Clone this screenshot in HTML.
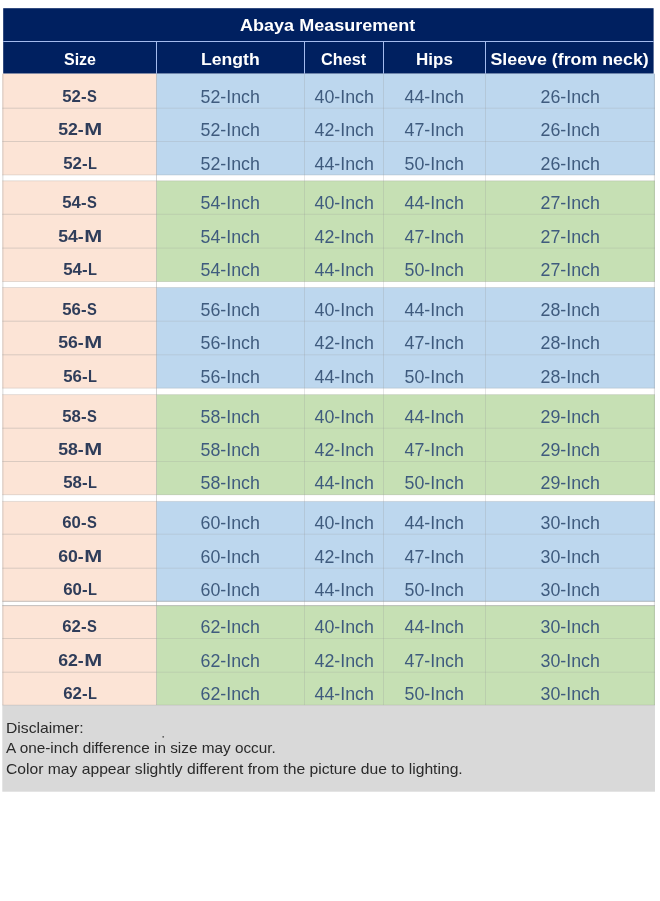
<!DOCTYPE html>
<html lang="en"><head><meta charset="utf-8"><title>Abaya Measurement</title>
<style>
html,body{margin:0;padding:0;background:#fff;}
body{width:660px;height:901px;position:relative;overflow:hidden;font-family:"Liberation Sans",sans-serif;}
svg{position:absolute;left:0;top:0;display:block;}
.tx{position:absolute;left:0;top:0;width:660px;height:901px;will-change:transform;}
.t{position:absolute;text-align:center;white-space:nowrap;line-height:20px;height:20px;}
.t span{display:inline-block;transform-origin:50% 50%;}
.h{color:#fff;font-weight:bold;font-size:17.0px;}
.s{color:#2f3d5a;font-weight:bold;font-size:17.0px;}
.v{color:#3f5b7e;font-size:17.5px;}
.d{position:absolute;left:6px;white-space:nowrap;line-height:20px;height:20px;color:#2a2a2a;font-size:14.5px;}
.d span{display:inline-block;transform-origin:0 50%;}
</style></head><body>
<svg width="660" height="901" viewBox="0 0 660 901">
<rect x="3.2" y="8.2" width="650.4" height="65.5" fill="#002060"/>
<rect x="3.2" y="41" width="650.4" height="1" fill="#a4bbee"/>
<rect x="156" y="41" width="1" height="32.7" fill="#a4bbee"/>
<rect x="304" y="41" width="1" height="32.7" fill="#a4bbee"/>
<rect x="383" y="41" width="1" height="32.7" fill="#a4bbee"/>
<rect x="485" y="41" width="1" height="32.7" fill="#a4bbee"/>
<rect x="2.3" y="73.7" width="154.2" height="101.4" fill="#fce4d6"/>
<rect x="156.5" y="73.7" width="498.5" height="101.4" fill="#bdd7ee"/>
<rect x="2.3" y="107.7" width="154.2" height="1" fill="rgba(150,150,150,0.33)"/>
<rect x="156.5" y="107.7" width="498.5" height="1" fill="rgba(150,150,150,0.22)"/>
<rect x="2.3" y="141.0" width="154.2" height="1" fill="rgba(150,150,150,0.33)"/>
<rect x="156.5" y="141.0" width="498.5" height="1" fill="rgba(150,150,150,0.22)"/>
<rect x="2.3" y="174.4" width="652.7" height="1" fill="rgba(150,150,150,0.25)"/>
<rect x="2.3" y="180.8" width="154.2" height="100.9" fill="#fce4d6"/>
<rect x="156.5" y="180.8" width="498.5" height="100.9" fill="#c6e0b4"/>
<rect x="2.3" y="213.8" width="154.2" height="1" fill="rgba(150,150,150,0.33)"/>
<rect x="156.5" y="213.8" width="498.5" height="1" fill="rgba(150,150,150,0.22)"/>
<rect x="2.3" y="247.6" width="154.2" height="1" fill="rgba(150,150,150,0.33)"/>
<rect x="156.5" y="247.6" width="498.5" height="1" fill="rgba(150,150,150,0.22)"/>
<rect x="2.3" y="281.0" width="652.7" height="1" fill="rgba(150,150,150,0.25)"/>
<rect x="2.3" y="180.3" width="652.7" height="1" fill="rgba(150,150,150,0.25)"/>
<rect x="2.3" y="287.5" width="154.2" height="100.8" fill="#fce4d6"/>
<rect x="156.5" y="287.5" width="498.5" height="100.8" fill="#bdd7ee"/>
<rect x="2.3" y="320.7" width="154.2" height="1" fill="rgba(150,150,150,0.33)"/>
<rect x="156.5" y="320.7" width="498.5" height="1" fill="rgba(150,150,150,0.22)"/>
<rect x="2.3" y="354.3" width="154.2" height="1" fill="rgba(150,150,150,0.33)"/>
<rect x="156.5" y="354.3" width="498.5" height="1" fill="rgba(150,150,150,0.22)"/>
<rect x="2.3" y="387.6" width="652.7" height="1" fill="rgba(150,150,150,0.25)"/>
<rect x="2.3" y="287.0" width="652.7" height="1" fill="rgba(150,150,150,0.25)"/>
<rect x="2.3" y="394.6" width="154.2" height="100.3" fill="#fce4d6"/>
<rect x="156.5" y="394.6" width="498.5" height="100.3" fill="#c6e0b4"/>
<rect x="2.3" y="427.7" width="154.2" height="1" fill="rgba(150,150,150,0.33)"/>
<rect x="156.5" y="427.7" width="498.5" height="1" fill="rgba(150,150,150,0.22)"/>
<rect x="2.3" y="461.0" width="154.2" height="1" fill="rgba(150,150,150,0.33)"/>
<rect x="156.5" y="461.0" width="498.5" height="1" fill="rgba(150,150,150,0.22)"/>
<rect x="2.3" y="494.2" width="652.7" height="1" fill="rgba(150,150,150,0.25)"/>
<rect x="2.3" y="394.1" width="652.7" height="1" fill="rgba(150,150,150,0.25)"/>
<rect x="2.3" y="501.4" width="154.2" height="100.1" fill="#fce4d6"/>
<rect x="156.5" y="501.4" width="498.5" height="100.1" fill="#bdd7ee"/>
<rect x="2.3" y="533.7" width="154.2" height="1" fill="rgba(150,150,150,0.33)"/>
<rect x="156.5" y="533.7" width="498.5" height="1" fill="rgba(150,150,150,0.22)"/>
<rect x="2.3" y="567.7" width="154.2" height="1" fill="rgba(150,150,150,0.33)"/>
<rect x="156.5" y="567.7" width="498.5" height="1" fill="rgba(150,150,150,0.22)"/>
<rect x="2.3" y="600.8" width="652.7" height="1" fill="rgba(150,150,150,0.55)"/>
<rect x="2.3" y="500.9" width="652.7" height="1" fill="rgba(150,150,150,0.25)"/>
<rect x="2.3" y="605.6" width="154.2" height="99.6" fill="#fce4d6"/>
<rect x="156.5" y="605.6" width="498.5" height="99.6" fill="#c6e0b4"/>
<rect x="2.3" y="638.0" width="154.2" height="1" fill="rgba(150,150,150,0.33)"/>
<rect x="156.5" y="638.0" width="498.5" height="1" fill="rgba(150,150,150,0.22)"/>
<rect x="2.3" y="671.7" width="154.2" height="1" fill="rgba(150,150,150,0.33)"/>
<rect x="156.5" y="671.7" width="498.5" height="1" fill="rgba(150,150,150,0.22)"/>
<rect x="2.3" y="605.1" width="652.7" height="1" fill="rgba(150,150,150,0.55)"/>
<rect x="156" y="73.7" width="1" height="631.5" fill="rgba(150,150,150,0.42)"/>
<rect x="304" y="73.7" width="1" height="631.5" fill="rgba(150,150,150,0.25)"/>
<rect x="383" y="73.7" width="1" height="631.5" fill="rgba(150,150,150,0.25)"/>
<rect x="485" y="73.7" width="1" height="631.5" fill="rgba(150,150,150,0.25)"/>
<rect x="2.3" y="73.7" width="1.1" height="631.5" fill="rgba(150,150,150,0.35)"/>
<rect x="653.9" y="73.7" width="1.1" height="631.5" fill="rgba(150,150,150,0.3)"/>
<rect x="2.3" y="705.2" width="652.7" height="86.5" fill="#d9d9d9"/>
<rect x="2.3" y="704.7" width="652.7" height="1" fill="rgba(150,150,150,0.3)"/>
<circle cx="163.2" cy="736.8" r="0.9" fill="#555"/>
</svg>
<div class="tx">
<div class="t h" style="left:2px;width:652px;top:16.41px"><span style="transform:scaleX(1.0600)">Abaya Measurement</span></div>
<div class="t h" style="left:3.5px;width:153px;top:50.01px"><span style="transform:scaleX(0.9400)">Size</span></div>
<div class="t h" style="left:156.5px;width:148px;top:50.01px"><span style="transform:scaleX(1.0360)">Length</span></div>
<div class="t h" style="left:304.5px;width:79px;top:50.01px"><span style="transform:scaleX(0.9570)">Chest</span></div>
<div class="t h" style="left:383.5px;width:102px;top:50.01px"><span style="transform:scaleX(1.0000)">Hips</span></div>
<div class="t h" style="left:484.5px;width:170px;top:50.01px"><span style="transform:scaleX(1.0470)">Sleeve (from neck)</span></div>
<div class="t s" style="left:3px;width:153px;top:86.61px"><span style="transform:scaleX(0.9850)">52-<span style="transform:scaleX(0.88);transform-origin:0 50%;margin-right:-1.36px">S</span></span></div>
<div class="t v" style="left:156.5px;width:148px;top:86.74px"><span style="transform:scaleX(1.0175)">52-Inch</span></div>
<div class="t v" style="left:304.5px;width:79px;top:86.74px"><span style="transform:scaleX(1.0175)">40-Inch</span></div>
<div class="t v" style="left:383.5px;width:102px;top:86.74px"><span style="transform:scaleX(1.0175)">44-Inch</span></div>
<div class="t v" style="left:485.5px;width:170px;top:86.74px"><span style="transform:scaleX(1.0175)">26-Inch</span></div>
<div class="t s" style="left:3.3px;width:153px;top:119.91px"><span style="transform:scaleX(1.0400)">52-<span style="transform:scaleX(1.22);transform-origin:0 50%;margin-right:3.12px">M</span></span></div>
<div class="t v" style="left:156.5px;width:148px;top:120.04px"><span style="transform:scaleX(1.0175)">52-Inch</span></div>
<div class="t v" style="left:304.5px;width:79px;top:120.04px"><span style="transform:scaleX(1.0175)">42-Inch</span></div>
<div class="t v" style="left:383.5px;width:102px;top:120.04px"><span style="transform:scaleX(1.0175)">47-Inch</span></div>
<div class="t v" style="left:485.5px;width:170px;top:120.04px"><span style="transform:scaleX(1.0175)">26-Inch</span></div>
<div class="t s" style="left:3.5px;width:153px;top:153.51px"><span style="transform:scaleX(0.9900)">52-<span style="transform:scaleX(0.87);transform-origin:0 50%;margin-right:-1.35px">L</span></span></div>
<div class="t v" style="left:156.5px;width:148px;top:153.64px"><span style="transform:scaleX(1.0175)">52-Inch</span></div>
<div class="t v" style="left:304.5px;width:79px;top:153.64px"><span style="transform:scaleX(1.0175)">44-Inch</span></div>
<div class="t v" style="left:383.5px;width:102px;top:153.64px"><span style="transform:scaleX(1.0175)">50-Inch</span></div>
<div class="t v" style="left:485.5px;width:170px;top:153.64px"><span style="transform:scaleX(1.0175)">26-Inch</span></div>
<div class="t s" style="left:3px;width:153px;top:192.71px"><span style="transform:scaleX(0.9850)">54-<span style="transform:scaleX(0.88);transform-origin:0 50%;margin-right:-1.36px">S</span></span></div>
<div class="t v" style="left:156.5px;width:148px;top:192.84px"><span style="transform:scaleX(1.0175)">54-Inch</span></div>
<div class="t v" style="left:304.5px;width:79px;top:192.84px"><span style="transform:scaleX(1.0175)">40-Inch</span></div>
<div class="t v" style="left:383.5px;width:102px;top:192.84px"><span style="transform:scaleX(1.0175)">44-Inch</span></div>
<div class="t v" style="left:485.5px;width:170px;top:192.84px"><span style="transform:scaleX(1.0175)">27-Inch</span></div>
<div class="t s" style="left:3.3px;width:153px;top:226.51px"><span style="transform:scaleX(1.0400)">54-<span style="transform:scaleX(1.22);transform-origin:0 50%;margin-right:3.12px">M</span></span></div>
<div class="t v" style="left:156.5px;width:148px;top:226.64px"><span style="transform:scaleX(1.0175)">54-Inch</span></div>
<div class="t v" style="left:304.5px;width:79px;top:226.64px"><span style="transform:scaleX(1.0175)">42-Inch</span></div>
<div class="t v" style="left:383.5px;width:102px;top:226.64px"><span style="transform:scaleX(1.0175)">47-Inch</span></div>
<div class="t v" style="left:485.5px;width:170px;top:226.64px"><span style="transform:scaleX(1.0175)">27-Inch</span></div>
<div class="t s" style="left:3.5px;width:153px;top:260.11px"><span style="transform:scaleX(0.9900)">54-<span style="transform:scaleX(0.87);transform-origin:0 50%;margin-right:-1.35px">L</span></span></div>
<div class="t v" style="left:156.5px;width:148px;top:260.24px"><span style="transform:scaleX(1.0175)">54-Inch</span></div>
<div class="t v" style="left:304.5px;width:79px;top:260.24px"><span style="transform:scaleX(1.0175)">44-Inch</span></div>
<div class="t v" style="left:383.5px;width:102px;top:260.24px"><span style="transform:scaleX(1.0175)">50-Inch</span></div>
<div class="t v" style="left:485.5px;width:170px;top:260.24px"><span style="transform:scaleX(1.0175)">27-Inch</span></div>
<div class="t s" style="left:3px;width:153px;top:299.61px"><span style="transform:scaleX(0.9850)">56-<span style="transform:scaleX(0.88);transform-origin:0 50%;margin-right:-1.36px">S</span></span></div>
<div class="t v" style="left:156.5px;width:148px;top:299.74px"><span style="transform:scaleX(1.0175)">56-Inch</span></div>
<div class="t v" style="left:304.5px;width:79px;top:299.74px"><span style="transform:scaleX(1.0175)">40-Inch</span></div>
<div class="t v" style="left:383.5px;width:102px;top:299.74px"><span style="transform:scaleX(1.0175)">44-Inch</span></div>
<div class="t v" style="left:485.5px;width:170px;top:299.74px"><span style="transform:scaleX(1.0175)">28-Inch</span></div>
<div class="t s" style="left:3.3px;width:153px;top:333.21px"><span style="transform:scaleX(1.0400)">56-<span style="transform:scaleX(1.22);transform-origin:0 50%;margin-right:3.12px">M</span></span></div>
<div class="t v" style="left:156.5px;width:148px;top:333.34px"><span style="transform:scaleX(1.0175)">56-Inch</span></div>
<div class="t v" style="left:304.5px;width:79px;top:333.34px"><span style="transform:scaleX(1.0175)">42-Inch</span></div>
<div class="t v" style="left:383.5px;width:102px;top:333.34px"><span style="transform:scaleX(1.0175)">47-Inch</span></div>
<div class="t v" style="left:485.5px;width:170px;top:333.34px"><span style="transform:scaleX(1.0175)">28-Inch</span></div>
<div class="t s" style="left:3.5px;width:153px;top:366.71px"><span style="transform:scaleX(0.9900)">56-<span style="transform:scaleX(0.87);transform-origin:0 50%;margin-right:-1.35px">L</span></span></div>
<div class="t v" style="left:156.5px;width:148px;top:366.84px"><span style="transform:scaleX(1.0175)">56-Inch</span></div>
<div class="t v" style="left:304.5px;width:79px;top:366.84px"><span style="transform:scaleX(1.0175)">44-Inch</span></div>
<div class="t v" style="left:383.5px;width:102px;top:366.84px"><span style="transform:scaleX(1.0175)">50-Inch</span></div>
<div class="t v" style="left:485.5px;width:170px;top:366.84px"><span style="transform:scaleX(1.0175)">28-Inch</span></div>
<div class="t s" style="left:3px;width:153px;top:406.61px"><span style="transform:scaleX(0.9850)">58-<span style="transform:scaleX(0.88);transform-origin:0 50%;margin-right:-1.36px">S</span></span></div>
<div class="t v" style="left:156.5px;width:148px;top:406.74px"><span style="transform:scaleX(1.0175)">58-Inch</span></div>
<div class="t v" style="left:304.5px;width:79px;top:406.74px"><span style="transform:scaleX(1.0175)">40-Inch</span></div>
<div class="t v" style="left:383.5px;width:102px;top:406.74px"><span style="transform:scaleX(1.0175)">44-Inch</span></div>
<div class="t v" style="left:485.5px;width:170px;top:406.74px"><span style="transform:scaleX(1.0175)">29-Inch</span></div>
<div class="t s" style="left:3.3px;width:153px;top:439.91px"><span style="transform:scaleX(1.0400)">58-<span style="transform:scaleX(1.22);transform-origin:0 50%;margin-right:3.12px">M</span></span></div>
<div class="t v" style="left:156.5px;width:148px;top:440.04px"><span style="transform:scaleX(1.0175)">58-Inch</span></div>
<div class="t v" style="left:304.5px;width:79px;top:440.04px"><span style="transform:scaleX(1.0175)">42-Inch</span></div>
<div class="t v" style="left:383.5px;width:102px;top:440.04px"><span style="transform:scaleX(1.0175)">47-Inch</span></div>
<div class="t v" style="left:485.5px;width:170px;top:440.04px"><span style="transform:scaleX(1.0175)">29-Inch</span></div>
<div class="t s" style="left:3.5px;width:153px;top:473.31px"><span style="transform:scaleX(0.9900)">58-<span style="transform:scaleX(0.87);transform-origin:0 50%;margin-right:-1.35px">L</span></span></div>
<div class="t v" style="left:156.5px;width:148px;top:473.44px"><span style="transform:scaleX(1.0175)">58-Inch</span></div>
<div class="t v" style="left:304.5px;width:79px;top:473.44px"><span style="transform:scaleX(1.0175)">44-Inch</span></div>
<div class="t v" style="left:383.5px;width:102px;top:473.44px"><span style="transform:scaleX(1.0175)">50-Inch</span></div>
<div class="t v" style="left:485.5px;width:170px;top:473.44px"><span style="transform:scaleX(1.0175)">29-Inch</span></div>
<div class="t s" style="left:3px;width:153px;top:512.61px"><span style="transform:scaleX(0.9850)">60-<span style="transform:scaleX(0.88);transform-origin:0 50%;margin-right:-1.36px">S</span></span></div>
<div class="t v" style="left:156.5px;width:148px;top:512.74px"><span style="transform:scaleX(1.0175)">60-Inch</span></div>
<div class="t v" style="left:304.5px;width:79px;top:512.74px"><span style="transform:scaleX(1.0175)">40-Inch</span></div>
<div class="t v" style="left:383.5px;width:102px;top:512.74px"><span style="transform:scaleX(1.0175)">44-Inch</span></div>
<div class="t v" style="left:485.5px;width:170px;top:512.74px"><span style="transform:scaleX(1.0175)">30-Inch</span></div>
<div class="t s" style="left:3.3px;width:153px;top:546.61px"><span style="transform:scaleX(1.0400)">60-<span style="transform:scaleX(1.22);transform-origin:0 50%;margin-right:3.12px">M</span></span></div>
<div class="t v" style="left:156.5px;width:148px;top:546.74px"><span style="transform:scaleX(1.0175)">60-Inch</span></div>
<div class="t v" style="left:304.5px;width:79px;top:546.74px"><span style="transform:scaleX(1.0175)">42-Inch</span></div>
<div class="t v" style="left:383.5px;width:102px;top:546.74px"><span style="transform:scaleX(1.0175)">47-Inch</span></div>
<div class="t v" style="left:485.5px;width:170px;top:546.74px"><span style="transform:scaleX(1.0175)">30-Inch</span></div>
<div class="t s" style="left:3.5px;width:153px;top:579.91px"><span style="transform:scaleX(0.9900)">60-<span style="transform:scaleX(0.87);transform-origin:0 50%;margin-right:-1.35px">L</span></span></div>
<div class="t v" style="left:156.5px;width:148px;top:580.04px"><span style="transform:scaleX(1.0175)">60-Inch</span></div>
<div class="t v" style="left:304.5px;width:79px;top:580.04px"><span style="transform:scaleX(1.0175)">44-Inch</span></div>
<div class="t v" style="left:383.5px;width:102px;top:580.04px"><span style="transform:scaleX(1.0175)">50-Inch</span></div>
<div class="t v" style="left:485.5px;width:170px;top:580.04px"><span style="transform:scaleX(1.0175)">30-Inch</span></div>
<div class="t s" style="left:3px;width:153px;top:616.91px"><span style="transform:scaleX(0.9850)">62-<span style="transform:scaleX(0.88);transform-origin:0 50%;margin-right:-1.36px">S</span></span></div>
<div class="t v" style="left:156.5px;width:148px;top:617.04px"><span style="transform:scaleX(1.0175)">62-Inch</span></div>
<div class="t v" style="left:304.5px;width:79px;top:617.04px"><span style="transform:scaleX(1.0175)">40-Inch</span></div>
<div class="t v" style="left:383.5px;width:102px;top:617.04px"><span style="transform:scaleX(1.0175)">44-Inch</span></div>
<div class="t v" style="left:485.5px;width:170px;top:617.04px"><span style="transform:scaleX(1.0175)">30-Inch</span></div>
<div class="t s" style="left:3.3px;width:153px;top:650.61px"><span style="transform:scaleX(1.0400)">62-<span style="transform:scaleX(1.22);transform-origin:0 50%;margin-right:3.12px">M</span></span></div>
<div class="t v" style="left:156.5px;width:148px;top:650.74px"><span style="transform:scaleX(1.0175)">62-Inch</span></div>
<div class="t v" style="left:304.5px;width:79px;top:650.74px"><span style="transform:scaleX(1.0175)">42-Inch</span></div>
<div class="t v" style="left:383.5px;width:102px;top:650.74px"><span style="transform:scaleX(1.0175)">47-Inch</span></div>
<div class="t v" style="left:485.5px;width:170px;top:650.74px"><span style="transform:scaleX(1.0175)">30-Inch</span></div>
<div class="t s" style="left:3.5px;width:153px;top:683.61px"><span style="transform:scaleX(0.9900)">62-<span style="transform:scaleX(0.87);transform-origin:0 50%;margin-right:-1.35px">L</span></span></div>
<div class="t v" style="left:156.5px;width:148px;top:683.74px"><span style="transform:scaleX(1.0175)">62-Inch</span></div>
<div class="t v" style="left:304.5px;width:79px;top:683.74px"><span style="transform:scaleX(1.0175)">44-Inch</span></div>
<div class="t v" style="left:383.5px;width:102px;top:683.74px"><span style="transform:scaleX(1.0175)">50-Inch</span></div>
<div class="t v" style="left:485.5px;width:170px;top:683.74px"><span style="transform:scaleX(1.0175)">30-Inch</span></div>
<div class="d" style="top:717.68px"><span style="transform:scaleX(1.0830)">Disclaimer:</span></div>
<div class="d" style="top:738.18px"><span style="transform:scaleX(1.0570)">A one-inch difference in size may occur.</span></div>
<div class="d" style="top:759.18px"><span style="transform:scaleX(1.0800)">Color may appear slightly different from the picture due to lighting.</span></div>
</div>
</body></html>
